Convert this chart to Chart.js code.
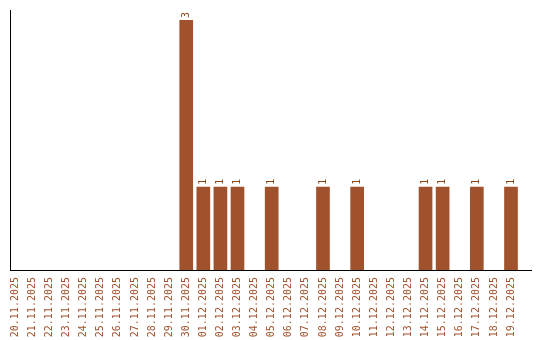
<!DOCTYPE html>
<html>
<head>
<meta charset="utf-8">
<script src="https://cdn.jsdelivr.net/npm/chart.js@4/dist/chart.umd.min.js"></script>
<style>
  html, body { margin: 0; padding: 0; background: #fff; }
  canvas { display: block; }
</style>
</head>
<body>
<canvas id="chart" width="540" height="340"></canvas>
<script>
"use strict";

const dates = [
  "20.11.2025", "21.11.2025", "22.11.2025", "23.11.2025", "24.11.2025",
  "25.11.2025", "26.11.2025", "27.11.2025", "28.11.2025", "29.11.2025",
  "30.11.2025", "01.12.2025", "02.12.2025", "03.12.2025", "04.12.2025",
  "05.12.2025", "06.12.2025", "07.12.2025", "08.12.2025", "09.12.2025",
  "10.12.2025", "11.12.2025", "12.12.2025", "13.12.2025", "14.12.2025",
  "15.12.2025", "16.12.2025", "17.12.2025", "18.12.2025", "19.12.2025",
];

const counts = [
  0, 0, 0, 0, 0, 0, 0, 0, 0, 0,
  3, 1, 1, 1, 0, 1, 0, 0, 1, 0,
  1, 0, 0, 0, 1, 1, 0, 1, 0, 1,
];

const BROWN = "#a0522d";
const FONT = '"DejaVu Sans Mono", monospace';

// value labels drawn vertically above each bar
const valueLabels = {
  id: "valueLabels",
  afterDatasetsDraw(chart) {
    const ctx = chart.ctx;
    const meta = chart.getDatasetMeta(0);
    ctx.save();
    ctx.font = `10px ${FONT}`;
    ctx.fillStyle = "#8b4513";
    ctx.textAlign = "left";
    ctx.textBaseline = "middle";
    meta.data.forEach((bar, i) => {
      if (!counts[i]) {
        return;
      }
      ctx.save();
      ctx.translate(bar.x, bar.y - 2);
      ctx.rotate(-Math.PI / 2);
      ctx.fillText(String(counts[i]), 0, 0);
      ctx.restore();
    });
    ctx.restore();
  },
};

new Chart(document.getElementById("chart"), {
  type: "bar",
  data: {
    datasets: [{
      data: counts.map((value, i) => ({ x: i, y: value })),
      backgroundColor: BROWN,
      borderWidth: 0,
      categoryPercentage: 0.8,
      barPercentage: 1,
    }],
  },
  options: {
    responsive: false,
    animation: false,
    layout: {
      padding: { left: 10, top: 10, right: 9, bottom: 0 },
    },
    plugins: {
      legend: { display: false },
      tooltip: { enabled: false },
    },
    scales: {
      x: {
        type: "linear",
        min: -0.31,
        max: 30.17,
        offset: false,
        grid: { display: false, drawTicks: false },
        border: { display: true, color: "#000", width: 1 },
        afterBuildTicks(scale) {
          scale.ticks = dates.map((_, i) => ({ value: i }));
        },
        afterFit(scale) {
          scale.height = 70;
        },
        ticks: {
          color: BROWN,
          font: { family: FONT, size: 10 },
          minRotation: 90,
          maxRotation: 90,
          autoSkip: false,
          padding: 7,
          callback: (value) => dates[value] ?? "",
        },
      },
      y: {
        min: 0,
        max: 3.12,
        grid: { display: false, drawTicks: false },
        border: { display: true, color: "#000", width: 1 },
        ticks: { display: false },
      },
    },
  },
  plugins: [valueLabels],
});
</script>
</body>
</html>
